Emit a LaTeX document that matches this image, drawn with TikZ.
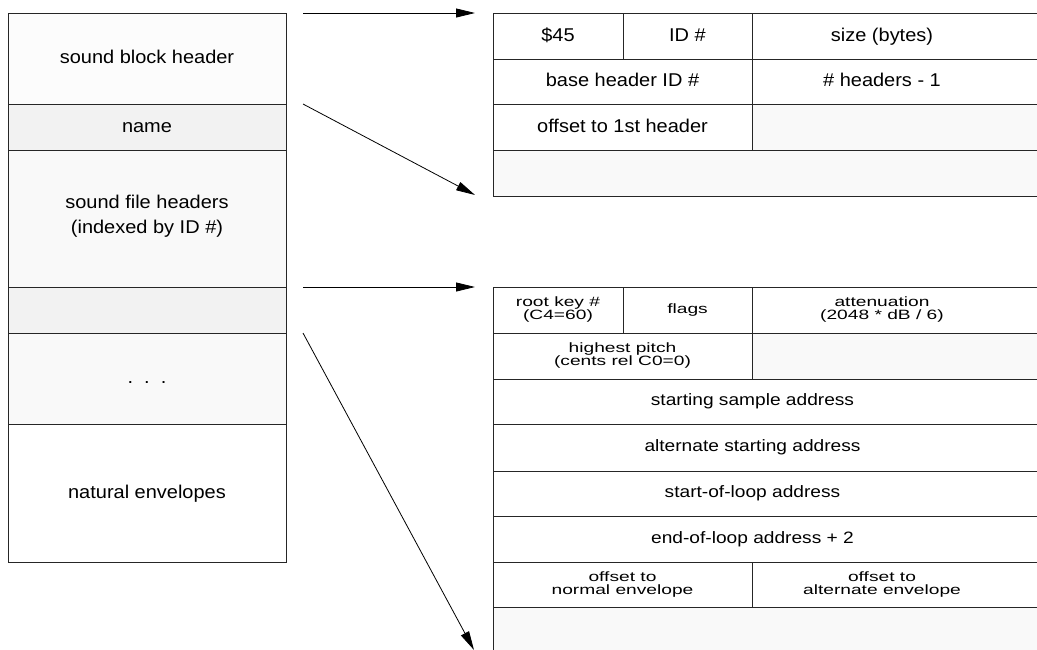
\documentclass[tikz,border=0pt]{standalone}
\usepackage{fontspec}
\setmainfont{Liberation Sans}
\usetikzlibrary{arrows.meta}
\definecolor{gA}{HTML}{F2F2F2}
\definecolor{gB}{HTML}{F9F9F9}
\definecolor{gC}{HTML}{FCFCFC}
\newcommand{\bigtxt}[1]{\scalebox{1.08}[1]{\begin{tabular}{@{}c@{}}#1\end{tabular}}}
\newcommand{\midtxt}[1]{\scalebox{1.16}[1]{#1}}
\newcommand{\smalltxt}[1]{\raisebox{6.5pt}{\scalebox{1.42}[1]{\begin{tabular}{@{}c@{}}#1\end{tabular}}}}
\begin{document}
\begin{tikzpicture}[x=1pt,y=-1pt,
  cellline/.style={draw=black!85,line width=0.9pt},
  bigfont/.style={font=\fontsize{18.5}{25}\selectfont,inner sep=0pt},
  midfont/.style={font=\fontsize{16.5}{20}\selectfont,inner sep=0pt},
  smallfont/.style={font=\fontsize{13.5}{11}\selectfont,inner sep=0pt},
  ptr/.style={draw=black,line width=0.8pt,-{Triangle[length=19pt,width=9pt]}}]
\useasboundingbox (0,0) rectangle (1037,649);
\clip (0,0) rectangle (1037,649);
\fill[white] (0,0) rectangle (1037,649);

% ---------- left column ----------
\fill[gC] (8,13) rectangle (286,104);
\fill[gA] (8,104) rectangle (286,150);
\fill[gB] (8,150) rectangle (286,287);
\fill[gA] (8,287) rectangle (286,333);
\fill[gB] (8,333) rectangle (286,424);
\fill[white] (8,424) rectangle (286,562);
\draw[cellline] (8,13) rectangle (286,562);
\foreach \yy in {104,150,287,333,424} \draw[cellline] (8,\yy) -- (286,\yy);

\node[bigfont] (lhdr) at (147,58.5) {\bigtxt{sound block header}};
\node[bigfont] (lname) at (147,127) {\bigtxt{name}};
\node[bigfont] (lsfh) at (147,216) {\bigtxt{sound file headers\\(indexed by ID \#)}};
\node[bigfont] (ldots) at (147,378.5) {\bigtxt{.\ \ .\ \ .}};
\node[bigfont] (lnat) at (147,493) {\bigtxt{natural envelopes}};

% ---------- top right table ----------
\fill[gB] (752,104) rectangle (1045,150);
\fill[gB] (493,150) rectangle (1045,196);
\draw[cellline] (1045,13) -- (493,13) -- (493,196) -- (1045,196);
\foreach \yy in {59,104,150} \draw[cellline] (493,\yy) -- (1045,\yy);
\draw[cellline] (623,13) -- (623,59);
\draw[cellline] (752,13) -- (752,150);

\node[bigfont] (t45) at (558,36) {\bigtxt{\$45}};
\node[bigfont] (tid) at (687.5,36) {\bigtxt{ID \#}};
\node[bigfont] (tsize) at (882,36) {\bigtxt{size (bytes)}};
\node[bigfont] (tbase) at (622.5,81.5) {\bigtxt{base header ID \#}};
\node[bigfont] (tnum) at (882,81.5) {\bigtxt{\# headers - 1}};
\node[bigfont] (toff) at (622.5,127) {\bigtxt{offset to 1st header}};

% ---------- bottom right table ----------
\fill[gB] (752,333) rectangle (1045,379);
\fill[gB] (493,607) rectangle (1045,660);
\draw[cellline] (1045,287) -- (493,287) -- (493,660);
\foreach \yy in {333,379,424,471,516,562,607} \draw[cellline] (493,\yy) -- (1045,\yy);
\draw[cellline] (623,287) -- (623,333);
\draw[cellline] (752,287) -- (752,379);
\draw[cellline] (752,562) -- (752,607);

\node[smallfont] (broot) at (558,310) {\smalltxt{root key \#\\(C4=60)}};
\node[smallfont] (bflags) at (687.5,310) {\raisebox{2pt}{\scalebox{1.42}[1]{flags}}};
\node[smallfont] (batt) at (882,310) {\smalltxt{attenuation\\(2048 * dB / 6)}};
\node[smallfont] (bpitch) at (622.5,356) {\smalltxt{highest pitch\\(cents rel C0=0)}};
\node[midfont] (bstart) at (752.5,401.5) {\midtxt{starting sample address}};
\node[midfont] (balt) at (752.5,447.5) {\midtxt{alternate starting address}};
\node[midfont] (bsol) at (752.5,493.5) {\midtxt{start-of-loop address}};
\node[midfont] (beol) at (752.5,539) {\midtxt{end-of-loop address + 2}};
\node[smallfont] (bnorm) at (622.5,584.5) {\smalltxt{offset to\\normal envelope}};
\node[smallfont] (baltenv) at (882,584.5) {\smalltxt{offset to\\alternate envelope}};

% ---------- arrows ----------
\coordinate (a1s) at (303,13);
\coordinate (a1e) at (475,13);
\coordinate (a2s) at (303,104);
\coordinate (a2e) at (475,195);
\coordinate (a3s) at (303,287);
\coordinate (a3e) at (475,287);
\coordinate (a4s) at (303,333);
\coordinate (a4e) at (474,650);
\draw[ptr] (a1s) -- (a1e);
\draw[ptr] (a2s) -- (a2e);
\draw[ptr] (a3s) -- (a3e);
\draw[ptr] (a4s) -- (a4e);
\end{tikzpicture}
\end{document}
